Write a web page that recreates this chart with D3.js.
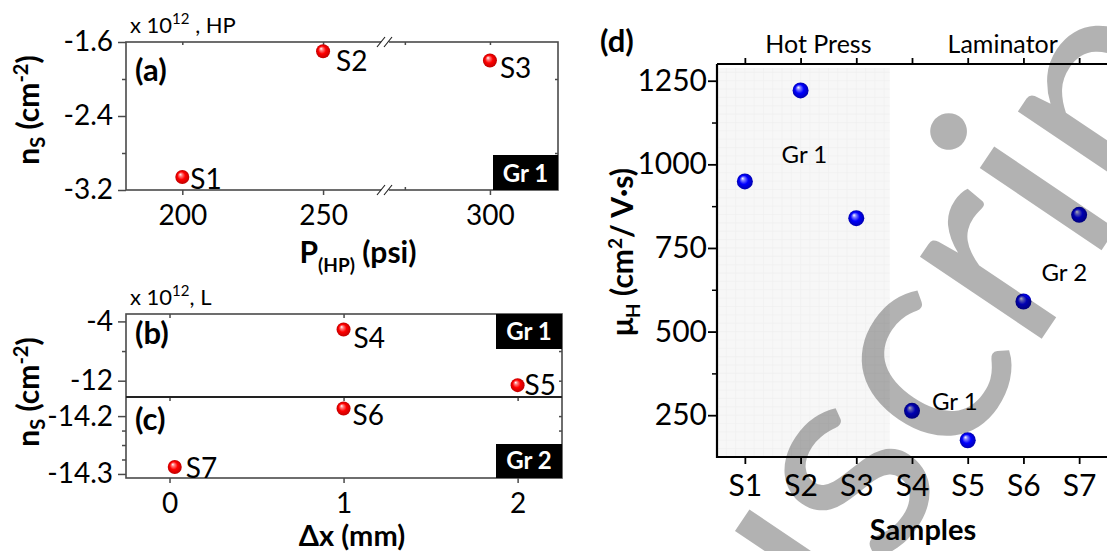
<!DOCTYPE html>
<html>
<head>
<meta charset="utf-8">
<script src="https://cdn.jsdelivr.net/npm/d3@7"></script>
<style>
body { margin: 0; background: #fff; }
text { font-family: Lato, "Open Sans", sans-serif; }
</style>
</head>
<body>
<svg id="fig" width="1107" height="551"></svg>
<script>
// (a) hot press: carrier density vs pressure (x 10^12 cm^-2)
const hpSamples = ["S1", "S2", "S3"]
const hpPressure = [200, 250, 300]
const hpDensity = [-3.06, -1.70, -1.80]

// (b) laminator, Gr 1
const lamSamples1 = ["S4", "S5"]
const lamShift1 = [1, 2]
const lamDensity1 = [-5.1, -12.6]

// (c) laminator, Gr 2
const lamSamples2 = ["S6", "S7"]
const lamShift2 = [1, 0.03]
const lamDensity2 = [-14.187, -14.288]

// (d) Hall mobility per sample
const samples = ["S1", "S2", "S3", "S4", "S5", "S6", "S7"]
const mobility = [949, 1221, 839, 263, 175, 590, 849]

// tick values
const aYTicks = [-3.2, -2.4, -1.6]
const aYMinor = [-2.8, -2.0]
const aXTicksLeft = [200, 250]
const aXTicksRight = [300]
const aXMinorRight = [270]
const bYTicks = [-12, -4]
const bYMinor = [-8]
const cYTicks = [-14.3, -14.2]
const cYMinor = [-14.275, -14.25, -14.225]
const bcXTicks = [0, 1, 2]
const dYTicks = [250, 500, 750, 1000, 1250]
const dYMinor = [375, 625, 875, 1125]

const svg = d3.select("#fig")
const frameCol = "#4a4a4a"

// sphere gradients
const defs = svg.append("defs")
function ball(id, light, mid, dark) {
    const g = defs.append("radialGradient").attr("id", id)
        .attr("cx", "50%").attr("cy", "50%").attr("r", "50%")
        .attr("fx", "35%").attr("fy", "30%")
    g.append("stop").attr("offset", "0%").attr("stop-color", "#ffffff")
    g.append("stop").attr("offset", "22%").attr("stop-color", light)
    g.append("stop").attr("offset", "55%").attr("stop-color", mid)
    g.append("stop").attr("offset", "100%").attr("stop-color", dark)
}
ball("redBall", "#ff8080", "#ff0000", "#c00000")
ball("blueBall", "#8080ff", "#0000ff", "#0000b0")

function styleAxis(g, col, w) {
    g.select(".domain").remove()
    g.selectAll(".tick line").attr("stroke", col).attr("stroke-width", w)
    g.selectAll(".tick text").attr("fill", "#000").attr("font-family", "Lato, sans-serif")
}
const fmt1 = d => d.toFixed(1)
const fmtInt = d => String(d)

// ---------- panel (a) ----------
const A = { left: 126, right: 558, top: 42, bottom: 190, brk: 385 }
const xa1 = d3.scaleLinear().domain([180, 272]).range([A.left, A.brk])
const xa2 = d3.scaleLinear().domain([263, 324]).range([A.brk, A.right])
const xa = v => v < 268 ? xa1(v) : xa2(v)
const ya = d3.scaleLinear().domain([-3.2, -1.6]).range([A.bottom, A.top])

const ga = svg.append("g")
ga.append("g").attr("transform", `translate(${A.left},0)`)
    .call(d3.axisLeft(ya).tickValues(aYTicks).tickSize(8).tickPadding(5).tickFormat(fmt1))
    .attr("font-size", 28).call(g => styleAxis(g, frameCol, 1.5))
ga.append("g").attr("transform", `translate(${A.left},0)`)
    .call(d3.axisLeft(ya).tickValues(aYMinor).tickSize(4).tickFormat(""))
    .call(g => styleAxis(g, frameCol, 1.5))
ga.append("g").attr("transform", `translate(${A.right},0)`)
    .call(d3.axisLeft(ya).tickValues(aYMinor).tickSize(3).tickFormat(""))
    .call(g => styleAxis(g, frameCol, 1.5))
;[[xa1, aXTicksLeft], [xa2, aXTicksRight]].forEach(([sc, tv]) => {
    ga.append("g").attr("transform", `translate(0,${A.bottom})`)
        .call(d3.axisBottom(sc).tickValues(tv).tickSize(5).tickPadding(10).tickFormat(fmtInt))
        .attr("font-size", 28).call(g => styleAxis(g, frameCol, 1.5))
    ga.append("g").attr("transform", `translate(0,${A.top})`)
        .call(d3.axisBottom(sc).tickValues(tv).tickSize(3).tickFormat(""))
        .call(g => styleAxis(g, frameCol, 1.5))
})
ga.append("g").attr("transform", `translate(0,${A.bottom})`)
    .call(d3.axisTop(xa2).tickValues(aXMinorRight).tickSize(3).tickFormat(""))
    .call(g => styleAxis(g, frameCol, 1.5))
ga.append("g").attr("transform", `translate(0,${A.top})`)
    .call(d3.axisBottom(xa2).tickValues(aXMinorRight).tickSize(3).tickFormat(""))
    .call(g => styleAxis(g, frameCol, 1.5))
ga.append("rect").attr("x", A.left).attr("y", A.top)
    .attr("width", A.right - A.left).attr("height", A.bottom - A.top)
    .attr("fill", "none").attr("stroke", frameCol).attr("stroke-width", 1.6)
// axis break marks
;[A.top, A.bottom].forEach(yy => {
    ga.append("rect").attr("x", A.brk - 4).attr("y", yy - 2).attr("width", 8).attr("height", 4).attr("fill", "#fff")
    ;[-4, 3].forEach(o => {
        ga.append("line").attr("x1", A.brk + o - 4).attr("y1", yy + 5)
            .attr("x2", A.brk + o + 4).attr("y2", yy - 5)
            .attr("stroke", "#222").attr("stroke-width", 1.2)
    })
})

// sample label offsets (dx, baseline dy) relative to marker centre
const labelOff = {
    S1: [8, 12], S2: [13, 20], S3: [10, 17],
    S4: [10, 18], S5: [7, 10], S6: [9, 16], S7: [11, 11]
}
function points(g, names, xs, ys, r, grad) {
    names.forEach((n, i) => {
        g.append("circle").attr("cx", xs[i]).attr("cy", ys[i]).attr("r", r)
            .attr("fill", `url(#${grad})`)
        g.append("text").attr("x", xs[i] + labelOff[n][0]).attr("y", ys[i] + labelOff[n][1])
            .attr("font-size", 28).text(n)
    })
}
points(ga, hpSamples, hpPressure.map(xa), hpDensity.map(ya), 7, "redBall")

// Gr box helper
function grBox(g, x, y, w, h, txt, baseDy) {
    g.append("rect").attr("x", x).attr("y", y).attr("width", w).attr("height", h).attr("fill", "#000")
    g.append("text").attr("x", x + w / 2).attr("y", y + baseDy).attr("text-anchor", "middle")
        .attr("fill", "#fff").attr("font-weight", 700).attr("font-size", 24).text(txt)
}
grBox(ga, A.right - 65, A.bottom - 35, 65, 35, "Gr 1", 27)

ga.append("text").attr("x", 135).attr("y", 81).attr("font-size", 31).attr("font-weight", 700).text("(a)")
const ta = ga.append("text").attr("x", 130).attr("y", 33).attr("font-size", 22)
ta.append("tspan").text("x 10")
ta.append("tspan").attr("font-size", 15).attr("dy", -9).text("12")
ta.append("tspan").attr("dy", 9).text(" , HP")

function nsLabel(g, cx, cy) {
    const t = g.append("text").attr("transform", `translate(${cx},${cy}) rotate(-90)`)
        .attr("text-anchor", "middle").attr("font-weight", 700).attr("font-size", 30)
    t.append("tspan").text("n")
    t.append("tspan").attr("font-size", 20).attr("dy", 6).text("S")
    t.append("tspan").attr("dy", -6).text(" (cm")
    t.append("tspan").attr("font-size", 20).attr("dy", -11).text("-2")
    t.append("tspan").attr("dy", 11).text(")")
}
nsLabel(ga, 39, 110)
const pa = ga.append("text").attr("x", 358).attr("y", 263).attr("text-anchor", "middle")
    .attr("font-weight", 700).attr("font-size", 30)
pa.append("tspan").text("P")
pa.append("tspan").attr("font-size", 19).attr("dy", 9).text("(HP)")
pa.append("tspan").attr("dy", -9).text(" (psi)")

// ---------- panels (b) and (c) ----------
const B = { left: 126, right: 562, top: 314, mid: 397, bottom: 478 }
const xb = d3.scaleLinear().domain([-0.25, 2.255]).range([B.left, B.right])
const yb = d3.scaleLinear().domain([-14.2, -3]).range([B.mid, B.top])
const yc = d3.scaleLinear().domain([-14.307, -14.167]).range([B.bottom, B.mid])

const gb = svg.append("g")
gb.append("g").attr("transform", `translate(${B.left},0)`)
    .call(d3.axisLeft(yb).tickValues(bYTicks).tickSize(8).tickPadding(5).tickFormat(fmtInt))
    .attr("font-size", 28).call(g => styleAxis(g, frameCol, 1.5))
gb.append("g").attr("transform", `translate(${B.left},0)`)
    .call(d3.axisLeft(yb).tickValues(bYMinor).tickSize(4).tickFormat(""))
    .call(g => styleAxis(g, frameCol, 1.5))
gb.append("g").attr("transform", `translate(${B.left},0)`)
    .call(d3.axisLeft(yc).tickValues(cYTicks).tickSize(8).tickPadding(5).tickFormat(fmt1))
    .attr("font-size", 28).call(g => styleAxis(g, frameCol, 1.5))
gb.append("g").attr("transform", `translate(${B.left},0)`)
    .call(d3.axisLeft(yc).tickValues(cYMinor).tickSize(4).tickFormat(""))
    .call(g => styleAxis(g, frameCol, 1.5))
gb.append("g").attr("transform", `translate(${B.right},0)`)
    .call(d3.axisLeft(yb).tickValues(bYMinor.concat(bYTicks)).tickSize(3).tickFormat(""))
    .call(g => styleAxis(g, frameCol, 1.5))
gb.append("g").attr("transform", `translate(${B.right},0)`)
    .call(d3.axisLeft(yc).tickValues(cYMinor.concat(cYTicks)).tickSize(3).tickFormat(""))
    .call(g => styleAxis(g, frameCol, 1.5))
gb.append("g").attr("transform", `translate(0,${B.bottom})`)
    .call(d3.axisBottom(xb).tickValues(bcXTicks).tickSize(5).tickPadding(10).tickFormat(fmtInt))
    .attr("font-size", 28).call(g => styleAxis(g, frameCol, 1.5))
;[B.top, B.mid].forEach(yy => {
    gb.append("g").attr("transform", `translate(0,${yy})`)
        .call(d3.axisBottom(xb).tickValues(bcXTicks).tickSize(4).tickFormat(""))
        .call(g => styleAxis(g, frameCol, 1.5))
})
gb.append("rect").attr("x", B.left).attr("y", B.top)
    .attr("width", B.right - B.left).attr("height", B.bottom - B.top)
    .attr("fill", "none").attr("stroke", frameCol).attr("stroke-width", 1.6)
gb.append("line").attr("x1", B.left).attr("x2", B.right).attr("y1", B.mid).attr("y2", B.mid)
    .attr("stroke", "#222").attr("stroke-width", 2.2)

grBox(gb, B.right - 66, B.top, 66, 35, "Gr 1", 26)
grBox(gb, B.right - 66, B.bottom - 34, 66, 34, "Gr 2", 25)
points(gb, lamSamples1, lamShift1.map(xb), lamDensity1.map(yb), 7, "redBall")
points(gb, lamSamples2, lamShift2.map(xb), lamDensity2.map(yc), 7, "redBall")

gb.append("text").attr("x", 135).attr("y", 344).attr("font-size", 31).attr("font-weight", 700).text("(b)")
gb.append("text").attr("x", 135).attr("y", 430).attr("font-size", 31).attr("font-weight", 700).text("(c)")
const tb = gb.append("text").attr("x", 130).attr("y", 305).attr("font-size", 22)
tb.append("tspan").text("x 10")
tb.append("tspan").attr("font-size", 15).attr("dy", -9).text("12")
tb.append("tspan").attr("dy", 9).text(", L")
nsLabel(gb, 39, 392)
gb.append("text").attr("x", 352).attr("y", 546).attr("text-anchor", "middle")
    .attr("font-weight", 700).attr("font-size", 29).text("\u0394x (mm)")

// ---------- panel (d) ----------
const D = { left: 717, right: 1107, top: 64, bottom: 457 }
const xd = d3.scalePoint().domain(samples).range([D.left, D.right]).padding(0.5)
const yd = d3.scaleLinear().domain([125, 1300]).range([D.bottom, D.top])
const gd = svg.append("g")

// hot-press shading with faint grid
const hpEdge = xd("S3") + xd.step() * 0.6
gd.append("rect").attr("x", D.left).attr("y", D.top + 4).attr("width", hpEdge - D.left)
    .attr("height", D.bottom - D.top - 4).attr("fill", "#f7f7f7")
const gridY = d3.range(150, 1300, 25)
const gridX = d3.range(0, (hpEdge - D.left) / xd.step() * 6)
gd.append("g").selectAll("line").data(gridY).join("line")
    .attr("x1", D.left).attr("x2", hpEdge).attr("y1", d => yd(d)).attr("y2", d => yd(d))
    .attr("stroke", "#eeeeee").attr("stroke-width", 0.6)
gd.append("g").selectAll("line").data(gridX).join("line")
    .attr("x1", d => D.left + d * xd.step() / 6).attr("x2", d => D.left + d * xd.step() / 6)
    .attr("y1", D.top + 4).attr("y2", D.bottom)
    .attr("stroke", "#eeeeee").attr("stroke-width", 0.6)

gd.append("g").attr("transform", `translate(${D.left},0)`)
    .call(d3.axisLeft(yd).tickValues(dYTicks).tickSize(9).tickPadding(1).tickFormat(fmtInt))
    .attr("font-size", 30).call(g => styleAxis(g, "#000", 1.8))
gd.append("g").attr("transform", `translate(${D.left},0)`)
    .call(d3.axisLeft(yd).tickValues(dYMinor).tickSize(5).tickFormat(""))
    .call(g => styleAxis(g, "#000", 1.5))
gd.append("g").attr("transform", `translate(0,${D.bottom})`)
    .call(d3.axisBottom(xd).tickSize(7).tickPadding(11))
    .attr("font-size", 30).call(g => styleAxis(g, "#000", 1.8))
gd.append("g").attr("transform", `translate(0,${D.top})`)
    .call(d3.axisTop(xd).tickSize(6).tickFormat(""))
    .call(g => styleAxis(g, "#000", 1.8))
gd.append("path").attr("d", `M${D.left},${D.top}H${D.right}M${D.left},${D.top}V${D.bottom}H${D.right}`)
    .attr("fill", "none").attr("stroke", "#000").attr("stroke-width", 2.2)

gd.selectAll("circle.mu").data(samples).join("circle").attr("class", "mu")
    .attr("cx", d => xd(d)).attr("cy", (d, i) => yd(mobility[i])).attr("r", 8)
    .attr("fill", "url(#blueBall)")

gd.append("text").attr("x", xd("S2") - 19).attr("y", yd(1005)).attr("font-size", 24).text("Gr 1")
gd.append("text").attr("x", xd("S6") + 18).attr("y", yd(650)).attr("font-size", 24).text("Gr 2")
gd.append("text").attr("x", xd("S4") + 20).attr("y", yd(265)).attr("font-size", 24).text("Gr 1")

gd.append("text").attr("x", (xd("S2") + xd("S3")) / 2 - 10).attr("y", 53).attr("text-anchor", "middle")
    .attr("font-size", 25).text("Hot Press")
gd.append("text").attr("x", xd("S5") + 35).attr("y", 53).attr("text-anchor", "middle")
    .attr("font-size", 25).text("Laminator")
gd.append("text").attr("x", 600).attr("y", 52).attr("font-size", 31).attr("font-weight", 700).text("(d)")

const tm = gd.append("text").attr("transform", `translate(633,252) rotate(-90)`)
    .attr("text-anchor", "middle").attr("font-weight", 700).attr("font-size", 30)
tm.append("tspan").text("\u03bc")
tm.append("tspan").attr("font-size", 19).attr("dy", 7).text("H")
tm.append("tspan").attr("dy", -7).text(" (cm")
tm.append("tspan").attr("font-size", 19).attr("dy", -11).text("2")
tm.append("tspan").attr("dy", 11).text("/ V\u00b7s)")
gd.append("text").attr("x", 923).attr("y", 540).attr("text-anchor", "middle")
    .attr("font-weight", 700).attr("font-size", 29).text("Samples")

// ---------- watermark ----------
svg.append("text").attr("transform", "translate(473,1182) rotate(-56)")
    .attr("font-family", "'Liberation Serif', 'DejaVu Serif', serif")
    .attr("font-size", 290).attr("fill", "#000").attr("fill-opacity", 0.3)
    .attr("pointer-events", "none")
    .text("Manuscript")
</script>
</body>
</html>
